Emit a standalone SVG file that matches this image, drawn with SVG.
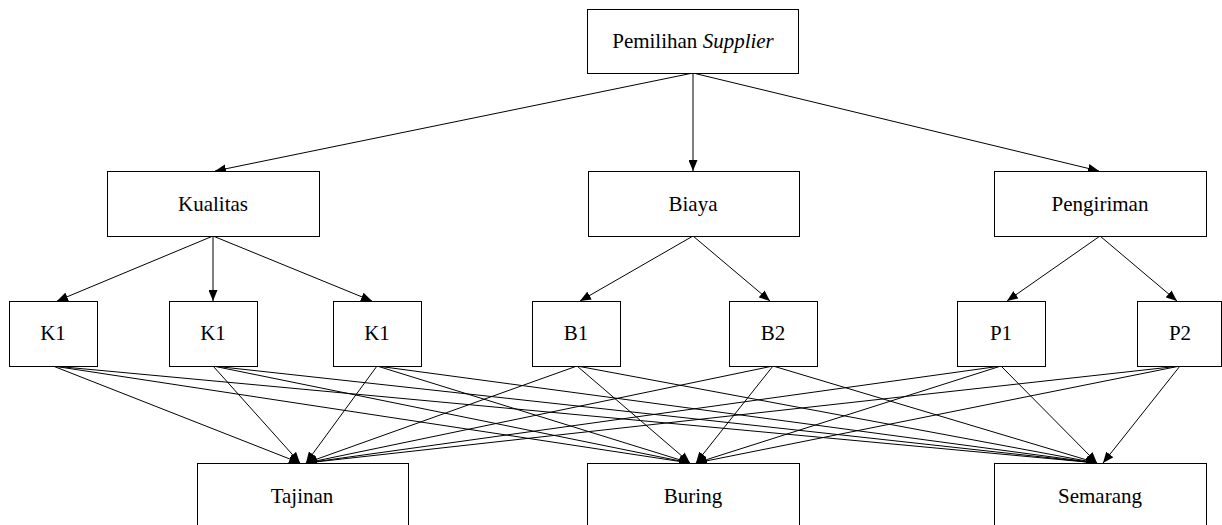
<svg xmlns="http://www.w3.org/2000/svg" width="1222" height="525" viewBox="0 0 1222 525">
<style>
.box{fill:#fff;stroke:#000;stroke-width:1}
.lbl{font-family:"Liberation Serif","Times New Roman",serif;font-size:21px;fill:#000;text-anchor:middle}
.e line{stroke:#000;stroke-width:1;marker-end:url(#ah)}
</style>
<defs>
<marker id="ah" markerUnits="userSpaceOnUse" markerWidth="11" markerHeight="9" refX="11" refY="4.5" orient="auto">
<path d="M0,0 L11,4.5 L0,9 z" fill="#000"/>
</marker>
</defs>
<rect width="1222" height="525" fill="#fff"/>
<g id="connectors" class="e">
<line x1="693" y1="73" x2="215" y2="171"/>
<line x1="693" y1="73" x2="693" y2="171"/>
<line x1="693" y1="73" x2="1099" y2="171"/>
<line x1="213" y1="236" x2="57" y2="301"/>
<line x1="213" y1="236" x2="213" y2="301"/>
<line x1="213" y1="236" x2="372" y2="301"/>
<line x1="693" y1="236" x2="580" y2="301"/>
<line x1="693" y1="236" x2="770" y2="301"/>
<line x1="1100" y1="236" x2="1007" y2="301"/>
<line x1="1100" y1="236" x2="1177" y2="301"/>
<line x1="53" y1="366" x2="300" y2="463"/>
<line x1="53" y1="366" x2="690" y2="463"/>
<line x1="53" y1="366" x2="1097" y2="463"/>
<line x1="213" y1="366" x2="300" y2="463"/>
<line x1="213" y1="366" x2="690" y2="463"/>
<line x1="213" y1="366" x2="1097" y2="463"/>
<line x1="377" y1="366" x2="306" y2="463"/>
<line x1="377" y1="366" x2="690" y2="463"/>
<line x1="377" y1="366" x2="1097" y2="463"/>
<line x1="577" y1="366" x2="306" y2="463"/>
<line x1="577" y1="366" x2="690" y2="463"/>
<line x1="577" y1="366" x2="1097" y2="463"/>
<line x1="773" y1="366" x2="306" y2="463"/>
<line x1="773" y1="366" x2="696" y2="463"/>
<line x1="773" y1="366" x2="1097" y2="463"/>
<line x1="1001" y1="366" x2="306" y2="463"/>
<line x1="1001" y1="366" x2="696" y2="463"/>
<line x1="1001" y1="366" x2="1097" y2="463"/>
<line x1="1180" y1="366" x2="306" y2="463"/>
<line x1="1180" y1="366" x2="696" y2="463"/>
<line x1="1180" y1="366" x2="1103" y2="463"/>
</g>
<g id="root"><rect class="box" x="587.5" y="9.5" width="211" height="64"/><text class="lbl" x="693" y="48">Pemilihan <tspan font-style="italic">Supplier</tspan></text></g>
<g id="kualitas"><rect class="box" x="107.5" y="171.5" width="212" height="65"/><text class="lbl" x="213" y="211">Kualitas</text></g>
<g id="biaya"><rect class="box" x="588.5" y="171.5" width="211" height="65"/><text class="lbl" x="693" y="211">Biaya</text></g>
<g id="pengiriman"><rect class="box" x="994.5" y="171.5" width="212" height="65"/><text class="lbl" x="1100" y="211">Pengiriman</text></g>
<g id="k1a"><rect class="box" x="9.5" y="301.5" width="88" height="65"/><text class="lbl" x="53" y="340">K1</text></g>
<g id="k1b"><rect class="box" x="169.5" y="301.5" width="88" height="65"/><text class="lbl" x="213" y="340">K1</text></g>
<g id="k1c"><rect class="box" x="333.5" y="301.5" width="88" height="65"/><text class="lbl" x="377" y="340">K1</text></g>
<g id="b1"><rect class="box" x="532.5" y="301.5" width="88" height="65"/><text class="lbl" x="576" y="340">B1</text></g>
<g id="b2"><rect class="box" x="729.5" y="301.5" width="88" height="65"/><text class="lbl" x="773" y="340">B2</text></g>
<g id="p1"><rect class="box" x="957.5" y="301.5" width="88" height="65"/><text class="lbl" x="1001" y="340">P1</text></g>
<g id="p2"><rect class="box" x="1137.5" y="301.5" width="84" height="65"/><text class="lbl" x="1180" y="340">P2</text></g>
<g id="tajinan"><rect class="box" x="197.5" y="463.5" width="211" height="80"/><text class="lbl" x="302" y="503">Tajinan</text></g>
<g id="buring"><rect class="box" x="587.5" y="463.5" width="212" height="80"/><text class="lbl" x="693" y="503">Buring</text></g>
<g id="semarang"><rect class="box" x="994.5" y="463.5" width="212" height="80"/><text class="lbl" x="1100" y="503">Semarang</text></g>
</svg>
